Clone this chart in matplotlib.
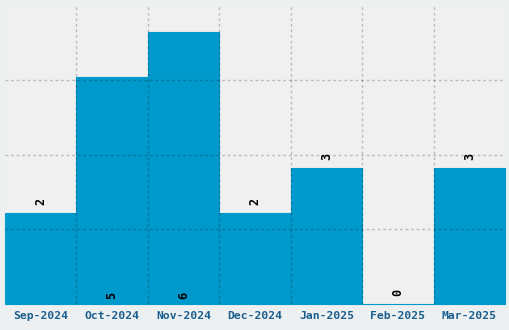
import matplotlib
matplotlib.use("Agg")
import matplotlib.pyplot as plt

# Monthly counts
months = ["Sep-2024", "Oct-2024", "Nov-2024", "Dec-2024", "Jan-2025", "Feb-2025", "Mar-2025"]
counts = [2, 5, 6, 2, 3, 0, 3]

bar_color = "#0099cb"
tick_color = "#1b5f8e"

fig = plt.figure(figsize=(5.1, 3.3), dpi=100, facecolor="#edf0f1")
ax = fig.add_axes([5 / 510, 26 / 330, 500 / 510, 299 / 330])
ax.set_facecolor("#f0f0f0")

x = list(range(len(months)))
bars = ax.bar(x, counts, width=1.0, color=bar_color, edgecolor=bar_color,
              linewidth=0.8, zorder=2)
for b in bars:
    b.set_clip_on(False)

ymax = max(counts) * 1.1
ax.set_xlim(-0.5, len(months) - 0.5)
ax.set_ylim(0, ymax)

# Grid drawn over the bars, so it darkens where it crosses them
for i in range(len(months) - 1):
    ax.axvline(i + 0.5, color="black", alpha=0.22, lw=1, ls=(0, (2, 2)), zorder=3)
for k in range(1, 4):
    ax.axhline(ymax * k / 4, color="black", alpha=0.22, lw=1, ls=(0, (2, 2)), zorder=3)

# value labels: above short bars, at the base of the tall ones
for xi, c in zip(x, counts):
    y = 0.18 if c > 4 else c + 0.26
    ax.text(xi, y, str(c), rotation=90, ha="center", va="center",
            fontsize=8.5, fontweight="bold", family="DejaVu Sans Mono", zorder=4)

ax.set_xticks(x)
ax.set_xticklabels(months, fontsize=8.2, fontweight="bold", family="DejaVu Sans Mono",
                   color=tick_color)
ax.tick_params(axis="x", length=0, pad=5)
ax.set_yticks([])
for s in ax.spines.values():
    s.set_visible(False)

fig.savefig("out.png", dpi=100, facecolor=fig.get_facecolor())
